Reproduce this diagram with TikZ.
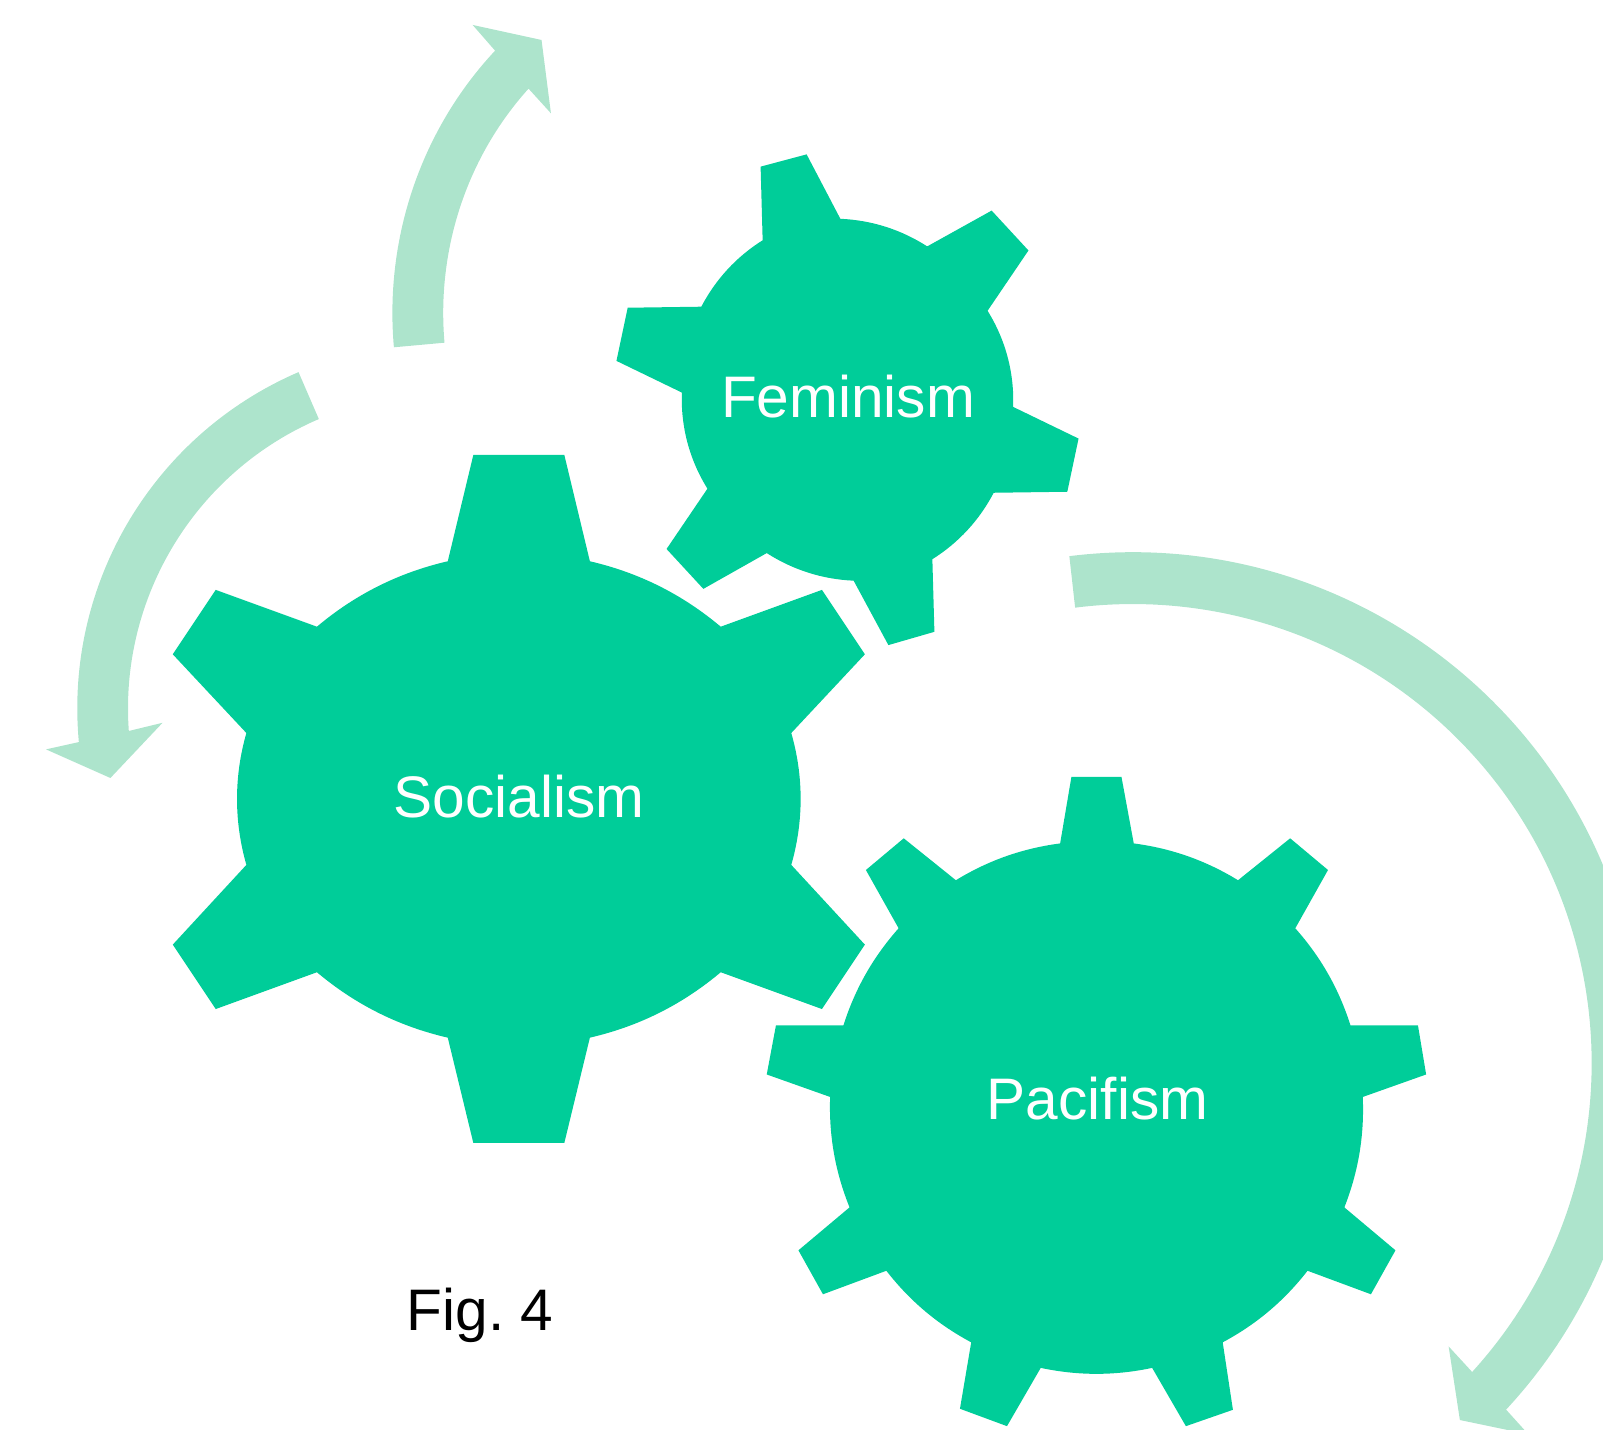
\documentclass[tikz,border=0pt]{standalone}
\usepackage{fontspec}
\setmainfont{Liberation Sans}

\definecolor{gearcol}{HTML}{00CD99}
\definecolor{arrowcol}{HTML}{ADE4CC}
\def\unitpx{0.5112pt}

\tikzset{
    gear/.style={fill=gearcol, draw=none},
    cyclearrow/.style={fill=arrowcol, draw=none},
    gearlabel/.style={anchor=base, inner sep=0pt, text=white, font=\fontsize{29.3}{35}\selectfont},
    caption/.style={anchor=base, inner sep=0pt, text=black, font=\fontsize{29.3}{35}\selectfont},
    rim/.style={bend left=#1, looseness=0.88}
}

\begin{document}
\begin{tikzpicture}[x=\unitpx, y=-\unitpx]
    \clip (0,0) rectangle (1568,1398);

    % arrows
    \fill[cyclearrow] (385.3,339.7) arc[start angle=185.2, end angle=136, x radius=358*\unitpx, y radius=369.5*\unitpx]
        -- (462.3,24.4) -- (529.7,39.1) -- (538.9,110.8) -- (517,86.7)
        arc[start angle=136.8, end angle=185.2, x radius=308*\unitpx, y radius=320.6*\unitpx] -- cycle;

    \fill[cyclearrow] (292,364) arc[start angle=113.3, end angle=185.3, radius=358*\unitpx]
        -- (45,733) -- (108,761) -- (159,707) -- (126,715)
        arc[start angle=184.1, end angle=113.2, radius=308*\unitpx] -- cycle;

    \fill[cyclearrow] (1046,544) arc[start angle=97.1, end angle=-42.9, radius=499*\unitpx]
        -- (1495,1403) -- (1428,1389) -- (1417,1317) -- (1440,1342)
        arc[start angle=-42.3, end angle=97.2, radius=449*\unitpx] -- cycle;

    % gears
    \fill[gear] (463,445) -- (552,445) -- (577,549) to[rim=13.5] (705,613)
        -- (804,577) -- (846,640) -- (774,717) to[rim=16] (774,846)
        -- (846,924) -- (804,987) -- (705,951) to[rim=13.5] (577,1015)
        -- (552,1118) -- (463,1118) -- (438,1015) to[rim=13.5] (310,951)
        -- (211,987) -- (169,924) -- (241,846) to[rim=16] (241,717)
        -- (169,640) -- (211,577) -- (310,613) to[rim=13.5] (438,549) -- cycle;

    \fill[gear] (744,163) -- (789,151) -- (822,214) to[rim=15] (907,241)
        -- (970,206) -- (1006,245) -- (966,304) to[rim=17] (991,398)
        -- (1055,429) -- (1044,481) -- (972,482) to[rim=15] (912,547)
        -- (914,618) -- (869,631) -- (835,568) to[rim=15] (750,541)
        -- (688,576) -- (652,537) -- (692,478) to[rim=17] (667,384)
        -- (603,353) -- (614,301) -- (686,300) to[rim=15] (746,235) -- cycle;

    \fill[gear] (1048,760) -- (1097,760) -- (1109,825) to[rim=12] (1211,861)
        -- (1262,820) -- (1299,851) -- (1267,908) to[rim=12] (1321,1003)
        -- (1387,1003) -- (1395,1051) -- (1333,1073) to[rim=12] (1315,1181)
        -- (1365,1223) -- (1341,1266) -- (1279,1243) to[rim=12] (1196,1313)
        -- (1206,1379) -- (1160,1395) -- (1127,1338) to[rim=12] (1018,1338)
        -- (985,1395) -- (939,1378) -- (950,1313) to[rim=12] (867,1243)
        -- (805,1266) -- (781,1223) -- (831,1181) to[rim=12] (812,1073)
        -- (750,1051) -- (759,1003) -- (825,1003) to[rim=12] (879,908)
        -- (847,851) -- (884,820) -- (935,861) to[rim=12] (1037,825) -- cycle;

    % labels
    \node[gearlabel] (feminism) at (829.5,408.5) {Feminism};
    \node[gearlabel] (socialism) at (507.5,799.5) {Socialism};
    \node[gearlabel] (pacifism) at (1073.5,1095.5) {Pacifism};
    \node[caption] (figlabel) at (469.5,1301.5) {Fig.\hspace{8.2pt}4};
\end{tikzpicture}
\end{document}
